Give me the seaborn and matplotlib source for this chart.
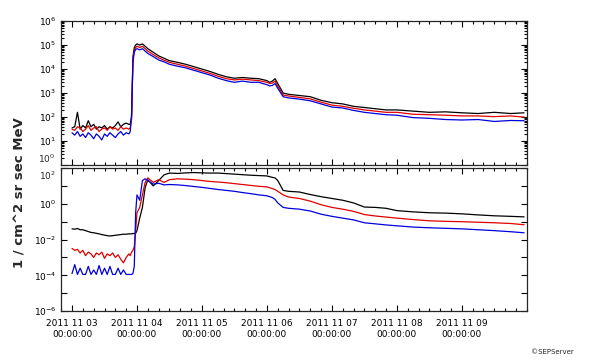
import numpy as np
import pandas as pd
import matplotlib
matplotlib.use("Agg")
import matplotlib.pyplot as plt
import matplotlib.dates as mdates
from matplotlib.ticker import FixedLocator, NullFormatter, LogLocator, NullLocator
import seaborn as sns

# hours after 2011-11-03 00:00 (shared time grid for both panels)
hours = [0, 1, 2, 3, 4, 5, 6, 7, 8, 9, 10, 11, 12, 13, 14, 15, 16, 17, 18, 19, 20, 21,
         21.5, 22, 22.5, 23, 23.5, 24, 25, 26, 27, 28, 30, 32, 34, 36, 39, 42, 45, 48,
         51, 54, 57, 60, 63, 66, 69, 72, 73, 74, 75, 76, 78, 80, 84, 88, 92, 96, 100,
         104, 108, 112, 116, 120, 126, 132, 138, 144, 150, 156, 162, 167]

# log10 of intensity, upper panel
top_black = [1.55, 1.6, 2.2, 1.5, 1.65, 1.55, 1.85, 1.6, 1.7, 1.5, 1.6, 1.55, 1.65, 1.5, 1.6, 1.55,
             1.65, 1.8, 1.6, 1.7, 1.75, 1.7,
             1.7, 2.0, 4.5, 4.9, 5.0, 5.05, 5.0, 5.05, 4.95, 4.85, 4.7, 4.55, 4.45, 4.35, 4.28,
             4.2, 4.1, 4.0, 3.9, 3.78, 3.68, 3.62, 3.65, 3.62, 3.6, 3.52, 3.45, 3.5, 3.6, 3.4,
             3.0, 2.95, 2.9, 2.85, 2.7, 2.6, 2.55, 2.45, 2.4, 2.35, 2.3, 2.3, 2.25, 2.2, 2.22,
             2.18, 2.15, 2.2, 2.15, 2.18]
top_red = [1.5, 1.45, 1.6, 1.55, 1.4, 1.5, 1.65, 1.45, 1.55, 1.6, 1.4, 1.5, 1.55, 1.45, 1.6, 1.5,
           1.55, 1.45, 1.6, 1.5, 1.55, 1.5,
           1.55, 1.9, 4.4, 4.8, 4.9, 4.95, 4.9, 4.95, 4.85, 4.75, 4.6, 4.47, 4.37, 4.28, 4.2,
           4.12, 4.02, 3.92, 3.82, 3.7, 3.6, 3.55, 3.58, 3.55, 3.52, 3.45, 3.4, 3.42, 3.5, 3.3,
           2.92, 2.88, 2.82, 2.76, 2.62, 2.5, 2.45, 2.37, 2.3, 2.25, 2.2, 2.2, 2.12, 2.1, 2.08,
           2.05, 2.05, 2.02, 2.05, 2.0]
top_blue = [1.35, 1.25, 1.4, 1.2, 1.3, 1.15, 1.35, 1.25, 1.1, 1.3, 1.2, 1.05, 1.3, 1.2, 1.35, 1.25,
            1.15, 1.3, 1.4, 1.25, 1.35, 1.3,
            1.4, 2.15, 4.3, 4.7, 4.82, 4.85, 4.8, 4.85, 4.75, 4.65, 4.52, 4.38, 4.3, 4.2, 4.12,
            4.05, 3.95, 3.85, 3.75, 3.62, 3.52, 3.45, 3.5, 3.45, 3.45, 3.35, 3.3, 3.32, 3.4, 3.2,
            2.85, 2.8, 2.75, 2.68, 2.55, 2.42, 2.38, 2.28, 2.2, 2.15, 2.1, 2.08, 1.98, 1.95, 1.9,
            1.88, 1.9, 1.82, 1.86, 1.85]

# log10 of intensity, lower panel
bot_black = [-1.4, -1.42, -1.38, -1.45, -1.45, -1.5, -1.55, -1.6, -1.62, -1.65, -1.68, -1.72,
             -1.75, -1.78, -1.8, -1.78, -1.76, -1.74, -1.72, -1.7, -1.7, -1.68,
             -1.68, -1.68, -1.66, -1.66, -1.65, -1.5, -0.8, -0.2, 0.9, 1.35, 1.0, 1.3, 1.62,
             1.72, 1.7, 1.73, 1.75, 1.73, 1.72, 1.72, 1.69, 1.66, 1.63, 1.6, 1.58, 1.56, 1.52,
             1.48, 1.45, 1.3, 0.75, 0.7, 0.66, 0.52, 0.4, 0.3, 0.2, 0.05, -0.18, -0.2, -0.25,
             -0.38, -0.45, -0.5, -0.52, -0.56, -0.62, -0.67, -0.7, -0.73]
bot_red = [-2.5, -2.6, -2.55, -2.75, -2.6, -2.9, -2.7, -2.8, -3.0, -2.75, -2.85, -2.7, -3.05,
           -2.8, -2.9, -2.75, -3.0, -2.85, -3.1, -3.3, -3.0, -2.8,
           -2.9, -2.7, -2.6, -2.4, -1.5, -0.5, -0.2, 0.5, 1.2, 1.45, 1.2, 1.35, 1.2, 1.35, 1.4,
           1.38, 1.35, 1.3, 1.25, 1.22, 1.18, 1.13, 1.08, 1.03, 0.98, 0.95, 0.9, 0.85, 0.8, 0.7,
           0.5, 0.38, 0.3, 0.15, -0.05, -0.2, -0.3, -0.42, -0.6, -0.68, -0.74, -0.8, -0.88,
           -0.95, -0.98, -1.0, -1.03, -1.06, -1.1, -1.17]
bot_blue = [-3.9, -3.4, -3.95, -3.6, -3.95, -3.95, -3.5, -3.95, -3.7, -3.95, -3.45, -3.95, -3.6,
            -3.95, -3.5, -3.95, -3.95, -3.6, -3.95, -3.7, -3.95, -3.95,
            -3.95, -3.95, -3.9, -3.5, -0.5, 0.5, 0.2, 1.3, 1.4, 1.3, 1.1, 1.15, 1.06, 1.08,
            1.06, 1.02, 0.97, 0.92, 0.86, 0.8, 0.75, 0.7, 0.63, 0.57, 0.5, 0.45, 0.4, 0.35,
            0.25, 0.05, -0.2, -0.25, -0.3, -0.4, -0.58, -0.7, -0.8, -0.9, -1.06, -1.12, -1.18,
            -1.23, -1.3, -1.34, -1.37, -1.4, -1.45, -1.5, -1.56, -1.62]

day_labels = ["2011 11 03", "2011 11 04", "2011 11 05", "2011 11 06",
              "2011 11 07", "2011 11 08", "2011 11 09"]
ylabel = "1 / cm^2 sr sec MeV"

t0 = pd.Timestamp("2011-11-03 00:00:00")
times = t0 + pd.to_timedelta(hours, unit="h")


def long_frame(black, red, blue):
    parts = []
    for name, vals in [("black", black), ("red", red), ("blue", blue)]:
        parts.append(pd.DataFrame({"time": times, "flux": 10 ** np.array(vals), "ch": name}))
    return pd.concat(parts, ignore_index=True)


sns.set_style("ticks")
plt.rcParams["font.family"] = ["DejaVu Sans"]

fig = plt.figure(figsize=(6.0, 3.63), dpi=100)
ax1 = fig.add_axes([0.102, 0.545, 0.776, 0.397])
ax2 = fig.add_axes([0.102, 0.143, 0.776, 0.394])

palette = {"black": "black", "red": "#e00000", "blue": "#0000dd"}
for ax, df in [(ax1, long_frame(top_black, top_red, top_blue)),
               (ax2, long_frame(bot_black, bot_red, bot_blue))]:
    sns.lineplot(data=df, x="time", y="flux", hue="ch", palette=palette, estimator=None,
                 linewidth=0.9, legend=False, ax=ax)
    ax.set_yscale("log")
    ax.set_xlim(t0 - pd.Timedelta(hours=4), t0 + pd.Timedelta(days=7))
    ax.set_xlabel("")
    ax.set_ylabel("")
    ax.xaxis.set_major_locator(FixedLocator(mdates.date2num(
        [t0 + pd.Timedelta(days=d) for d in range(7)])))
    ax.xaxis.set_minor_locator(mdates.HourLocator(byhour=[0, 4, 8, 12, 16, 20]))
    ax.tick_params(which="both", direction="in", top=True, right=True, width=0.8,
                   labelsize=6.5, colors="black")
    ax.tick_params(which="major", length=4)
    ax.tick_params(which="minor", length=2)
    for s in ax.spines.values():
        s.set_linewidth(0.9)

# upper panel axis (bottom label 10^0 placed by hand further down)
top_exps = list(range(0, 7))
ax1.set_ylim(1, 1e6)
ax1.yaxis.set_major_locator(FixedLocator([10.0 ** e for e in top_exps]))
ax1.set_yticklabels(["" if e == 0 else "$10^{%d}$" % e for e in top_exps])
ax1.yaxis.set_minor_locator(LogLocator(base=10, subs=np.arange(2, 10), numticks=10))
ax1.yaxis.set_minor_formatter(NullFormatter())
ax1.xaxis.set_major_formatter(NullFormatter())

# lower panel axis: tick each decade, label every other decade
bot_exps = list(range(-6, 3))
ax2.set_ylim(1e-6, 1e2)
ax2.yaxis.set_major_locator(FixedLocator([10.0 ** e for e in bot_exps]))
ax2.set_yticklabels(["$10^{%d}$" % e if (e % 2 == 0 and e < 2) else "" for e in bot_exps])
ax2.yaxis.set_minor_locator(NullLocator())
ax2.set_xticklabels([d + "\n00:00:00" for d in day_labels])
ax2.tick_params(axis="x", which="major", pad=6)

# the two labels at the panel seam overlap in the original; keep them just apart
ax1.text(-0.012, 0.0, "$10^{0}$", transform=ax1.transAxes, ha="right", va="bottom",
         fontsize=6.5)
ax2.text(-0.012, 0.99, "$10^{2}$", transform=ax2.transAxes, ha="right", va="top",
         fontsize=6.5)

fig.text(0.033, 0.47, ylabel, rotation=90, ha="center", va="center",
         fontsize=9.5, fontweight="bold")
fig.text(0.885, 0.03, "\u00a9SEPServer", fontsize=5, ha="left", va="center")

fig.savefig("out.png", dpi=100)
